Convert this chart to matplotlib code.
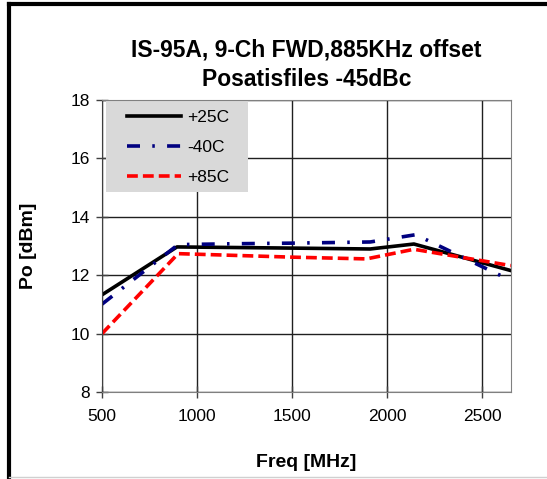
import matplotlib
matplotlib.use("Agg")
import matplotlib.pyplot as plt
from matplotlib.lines import Line2D
from matplotlib.patches import Rectangle

plt.rcParams['font.family'] = ['Liberation Sans', 'DejaVu Sans']

# data
freq_25 = [500, 894, 1200, 1500, 1910, 2140, 2650]
po_25 = [11.33, 12.97, 12.95, 12.93, 12.90, 13.07, 12.16]

freq_m40 = [500, 900, 1200, 1500, 1910, 2150, 2650]
po_m40 = [11.01, 13.05, 13.08, 13.10, 13.14, 13.39, 11.82]

freq_85 = [500, 900, 1200, 1500, 1890, 2140, 2650]
po_85 = [10.0, 12.74, 12.68, 12.62, 12.56, 12.89, 12.33]

labels = ['+25C', '-40C', '+85C']

fig = plt.figure(figsize=(5.47, 4.79), dpi=100)
ax = fig.add_axes([0.1865, 0.1816, 0.7475, 0.6094])

ax.plot(freq_25, po_25, color='black', lw=2.6, label=labels[0])
ax.plot(freq_m40, po_m40, color='#000080', lw=2.6, dashes=(3.6, 3.4, 0.7, 3.4), label=labels[1])
ax.plot(freq_85, po_85, color='red', lw=2.6, dashes=(3.0, 1.4), label=labels[2])

ax.set_xlim(500, 2650)
ax.set_ylim(8, 18)
ax.set_xticks([500, 1000, 1500, 2000, 2500])
ax.set_yticks([8, 10, 12, 14, 16, 18])
ax.grid(True, color='#202020', lw=1)
ax.set_axisbelow(True)
ax.tick_params(direction='inout', length=8, width=1, color='#404040', labelsize=12.5)
ax.tick_params(axis='x', pad=8)
ax.tick_params(axis='y', pad=5)
for side in ['top', 'right', 'bottom']:
    ax.spines[side].set_color('#808080')
ax.spines['left'].set_color('#404040')

ax.set_xlabel('Freq [MHz]', fontsize=14, fontweight='bold', labelpad=22)
ax.set_ylabel('Po [dBm]', fontsize=14, fontweight='bold', labelpad=24)
ax.set_title('IS-95A, 9-Ch FWD,885KHz offset\nPosatisfiles -45dBc',
             fontsize=16.5, fontweight='bold', linespacing=1.35, pad=10)

# legend box (grey panel, no border)
ax.add_patch(Rectangle((0.01, 0.685), 0.347, 0.315, transform=ax.transAxes,
                       facecolor='#d9d9d9', edgecolor='none', zorder=2.5))
leg = ax.legend(loc='upper left', bbox_to_anchor=(0.062, 0.966), fontsize=12.5,
                frameon=False, borderpad=0, borderaxespad=0, handlelength=3.1,
                labelspacing=0.84, handletextpad=0.35)

# outer frame
fig.add_artist(Line2D([0.017, 0.017], [0.0, 0.992], color='black', lw=3))
fig.add_artist(Line2D([0.017, 1.0], [0.992, 0.992], color='black', lw=3))
fig.add_artist(Line2D([0.017, 1.0], [0.004, 0.004], color='#d0d0d0', lw=1))

fig.savefig('out.png', dpi=100)
